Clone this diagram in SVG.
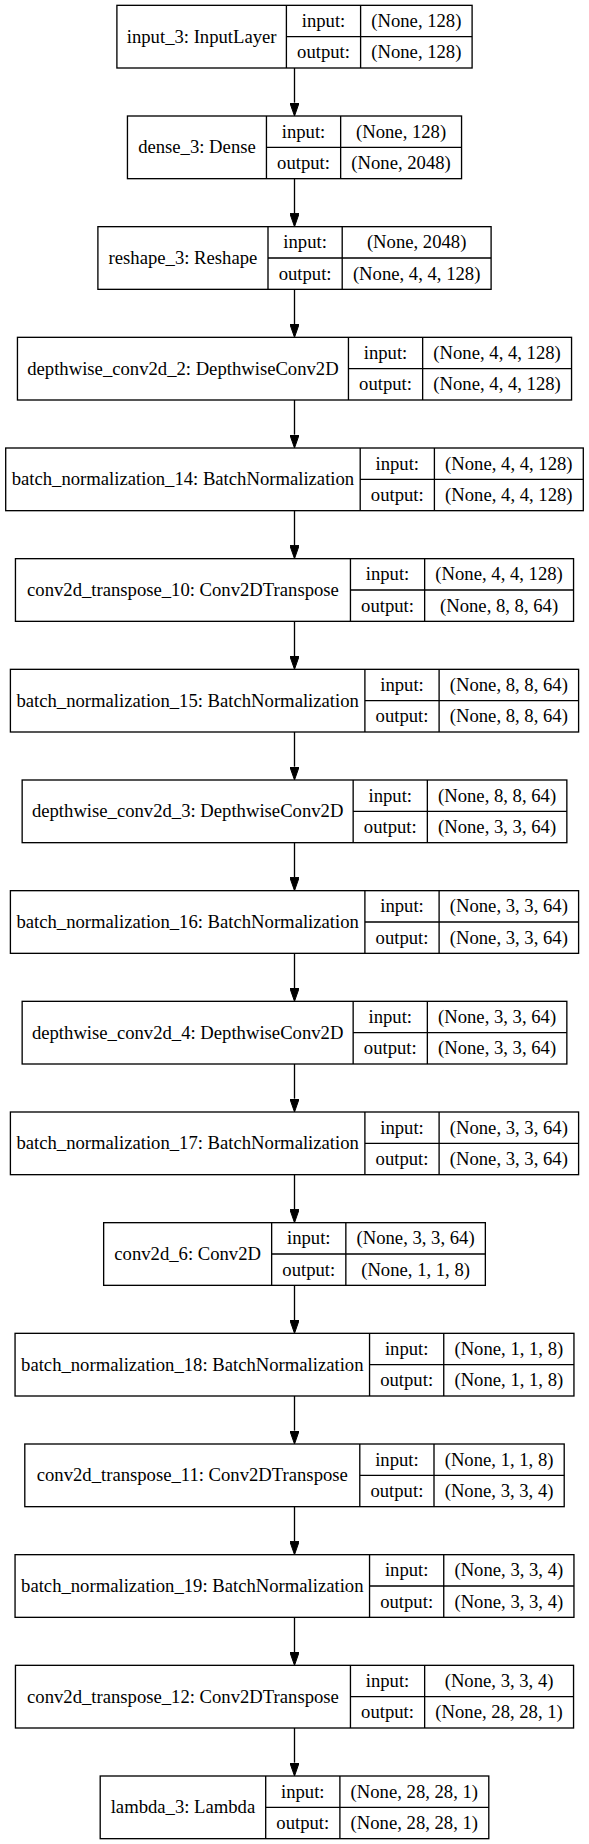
<svg xmlns="http://www.w3.org/2000/svg" width="589" height="1844" viewBox="0 0 589 1844">
<style>
.box{fill:#fff;stroke:#000;stroke-width:1.33}
.ln{stroke:#000;stroke-width:1.33;fill:none}
.t{font-family:"Liberation Serif","Times New Roman",serif;font-size:18.67px;fill:#000;text-anchor:middle}
.edge{stroke:#000;stroke-width:1.33;fill:none}
</style>
<defs>
<marker id="arr" markerUnits="userSpaceOnUse" viewBox="0 0 13.33 9.33" refX="0" refY="4.67" markerWidth="13.33" markerHeight="9.33" orient="auto">
<path d="M0,0 L13.33,4.67 L0,9.33 z" fill="#000" stroke="#000" stroke-width="1"/>
</marker>
</defs>
<rect width="589" height="1844" fill="#fff"/>
<g id="connectors">
<line class="edge" x1="294.5" y1="68" x2="294.5" y2="102.67" marker-end="url(#arr)"/>
<line class="edge" x1="294.5" y1="178.67" x2="294.5" y2="213.33" marker-end="url(#arr)"/>
<line class="edge" x1="294.5" y1="289.33" x2="294.5" y2="324" marker-end="url(#arr)"/>
<line class="edge" x1="294.5" y1="400" x2="294.5" y2="434.67" marker-end="url(#arr)"/>
<line class="edge" x1="294.5" y1="510.67" x2="294.5" y2="545.33" marker-end="url(#arr)"/>
<line class="edge" x1="294.5" y1="621.33" x2="294.5" y2="656" marker-end="url(#arr)"/>
<line class="edge" x1="294.5" y1="732" x2="294.5" y2="766.67" marker-end="url(#arr)"/>
<line class="edge" x1="294.5" y1="842.67" x2="294.5" y2="877.33" marker-end="url(#arr)"/>
<line class="edge" x1="294.5" y1="953.33" x2="294.5" y2="988" marker-end="url(#arr)"/>
<line class="edge" x1="294.5" y1="1064" x2="294.5" y2="1098.67" marker-end="url(#arr)"/>
<line class="edge" x1="294.5" y1="1174.67" x2="294.5" y2="1209.33" marker-end="url(#arr)"/>
<line class="edge" x1="294.5" y1="1285.33" x2="294.5" y2="1320" marker-end="url(#arr)"/>
<line class="edge" x1="294.5" y1="1396" x2="294.5" y2="1430.67" marker-end="url(#arr)"/>
<line class="edge" x1="294.5" y1="1506.67" x2="294.5" y2="1541.33" marker-end="url(#arr)"/>
<line class="edge" x1="294.5" y1="1617.33" x2="294.5" y2="1652" marker-end="url(#arr)"/>
<line class="edge" x1="294.5" y1="1728" x2="294.5" y2="1762.67" marker-end="url(#arr)"/>
</g>
<g id="n0">
<rect class="box" x="116.9" y="5.33" width="355.2" height="62.67"/>
<path class="ln" d="M286.4,5.33V68M360.6,5.33V68M286.4,36.67H472.1"/>
<text class="t" x="201.65" y="42.67">input_3: InputLayer</text>
<text class="t" x="323.5" y="26.83">input:</text>
<text class="t" x="416.35" y="26.83">(None, 128)</text>
<text class="t" x="323.5" y="58.17">output:</text>
<text class="t" x="416.35" y="58.17">(None, 128)</text>
</g>
<g id="n1">
<rect class="box" x="127.45" y="116" width="334.1" height="62.67"/>
<path class="ln" d="M266.45,116V178.67M340.65,116V178.67M266.45,147.33H461.55"/>
<text class="t" x="196.95" y="153.33">dense_3: Dense</text>
<text class="t" x="303.55" y="137.5">input:</text>
<text class="t" x="401.1" y="137.5">(None, 128)</text>
<text class="t" x="303.55" y="168.83">output:</text>
<text class="t" x="401.1" y="168.83">(None, 2048)</text>
</g>
<g id="n2">
<rect class="box" x="97.9" y="226.67" width="393.2" height="62.67"/>
<path class="ln" d="M268,226.67V289.33M342.2,226.67V289.33M268,258H491.1"/>
<text class="t" x="182.95" y="264">reshape_3: Reshape</text>
<text class="t" x="305.1" y="248.17">input:</text>
<text class="t" x="416.65" y="248.17">(None, 2048)</text>
<text class="t" x="305.1" y="279.5">output:</text>
<text class="t" x="416.65" y="279.5">(None, 4, 4, 128)</text>
</g>
<g id="n3">
<rect class="box" x="17.45" y="337.33" width="554.1" height="62.67"/>
<path class="ln" d="M348.45,337.33V400M422.65,337.33V400M348.45,368.67H571.55"/>
<text class="t" x="182.95" y="374.67">depthwise_conv2d_2: DepthwiseConv2D</text>
<text class="t" x="385.55" y="358.83">input:</text>
<text class="t" x="497.1" y="358.83">(None, 4, 4, 128)</text>
<text class="t" x="385.55" y="390.17">output:</text>
<text class="t" x="497.1" y="390.17">(None, 4, 4, 128)</text>
</g>
<g id="n4">
<rect class="box" x="5.7" y="448" width="577.6" height="62.67"/>
<path class="ln" d="M360.2,448V510.67M434.4,448V510.67M360.2,479.33H583.3"/>
<text class="t" x="182.95" y="485.33">batch_normalization_14: BatchNormalization</text>
<text class="t" x="397.3" y="469.5">input:</text>
<text class="t" x="508.85" y="469.5">(None, 4, 4, 128)</text>
<text class="t" x="397.3" y="500.83">output:</text>
<text class="t" x="508.85" y="500.83">(None, 4, 4, 128)</text>
</g>
<g id="n5">
<rect class="box" x="15.45" y="558.67" width="558.1" height="62.67"/>
<path class="ln" d="M350.45,558.67V621.33M424.65,558.67V621.33M350.45,590H573.55"/>
<text class="t" x="182.95" y="596">conv2d_transpose_10: Conv2DTranspose</text>
<text class="t" x="387.55" y="580.17">input:</text>
<text class="t" x="499.1" y="580.17">(None, 4, 4, 128)</text>
<text class="t" x="387.55" y="611.5">output:</text>
<text class="t" x="499.1" y="611.5">(None, 8, 8, 64)</text>
</g>
<g id="n6">
<rect class="box" x="10.4" y="669.33" width="568.2" height="62.67"/>
<path class="ln" d="M364.9,669.33V732M439.1,669.33V732M364.9,700.67H578.6"/>
<text class="t" x="187.65" y="706.67">batch_normalization_15: BatchNormalization</text>
<text class="t" x="402" y="690.83">input:</text>
<text class="t" x="508.85" y="690.83">(None, 8, 8, 64)</text>
<text class="t" x="402" y="722.17">output:</text>
<text class="t" x="508.85" y="722.17">(None, 8, 8, 64)</text>
</g>
<g id="n7">
<rect class="box" x="22.15" y="780" width="544.7" height="62.67"/>
<path class="ln" d="M353.15,780V842.67M427.35,780V842.67M353.15,811.33H566.85"/>
<text class="t" x="187.65" y="817.33">depthwise_conv2d_3: DepthwiseConv2D</text>
<text class="t" x="390.25" y="801.5">input:</text>
<text class="t" x="497.1" y="801.5">(None, 8, 8, 64)</text>
<text class="t" x="390.25" y="832.83">output:</text>
<text class="t" x="497.1" y="832.83">(None, 3, 3, 64)</text>
</g>
<g id="n8">
<rect class="box" x="10.4" y="890.67" width="568.2" height="62.67"/>
<path class="ln" d="M364.9,890.67V953.33M439.1,890.67V953.33M364.9,922H578.6"/>
<text class="t" x="187.65" y="928">batch_normalization_16: BatchNormalization</text>
<text class="t" x="402" y="912.17">input:</text>
<text class="t" x="508.85" y="912.17">(None, 3, 3, 64)</text>
<text class="t" x="402" y="943.5">output:</text>
<text class="t" x="508.85" y="943.5">(None, 3, 3, 64)</text>
</g>
<g id="n9">
<rect class="box" x="22.15" y="1001.33" width="544.7" height="62.67"/>
<path class="ln" d="M353.15,1001.33V1064M427.35,1001.33V1064M353.15,1032.67H566.85"/>
<text class="t" x="187.65" y="1038.67">depthwise_conv2d_4: DepthwiseConv2D</text>
<text class="t" x="390.25" y="1022.83">input:</text>
<text class="t" x="497.1" y="1022.83">(None, 3, 3, 64)</text>
<text class="t" x="390.25" y="1054.17">output:</text>
<text class="t" x="497.1" y="1054.17">(None, 3, 3, 64)</text>
</g>
<g id="n10">
<rect class="box" x="10.4" y="1112" width="568.2" height="62.67"/>
<path class="ln" d="M364.9,1112V1174.67M439.1,1112V1174.67M364.9,1143.33H578.6"/>
<text class="t" x="187.65" y="1149.33">batch_normalization_17: BatchNormalization</text>
<text class="t" x="402" y="1133.5">input:</text>
<text class="t" x="508.85" y="1133.5">(None, 3, 3, 64)</text>
<text class="t" x="402" y="1164.83">output:</text>
<text class="t" x="508.85" y="1164.83">(None, 3, 3, 64)</text>
</g>
<g id="n11">
<rect class="box" x="103.65" y="1222.67" width="381.7" height="62.67"/>
<path class="ln" d="M271.65,1222.67V1285.33M345.85,1222.67V1285.33M271.65,1254H485.35"/>
<text class="t" x="187.65" y="1260">conv2d_6: Conv2D</text>
<text class="t" x="308.75" y="1244.17">input:</text>
<text class="t" x="415.6" y="1244.17">(None, 3, 3, 64)</text>
<text class="t" x="308.75" y="1275.5">output:</text>
<text class="t" x="415.6" y="1275.5">(None, 1, 1, 8)</text>
</g>
<g id="n12">
<rect class="box" x="15.05" y="1333.33" width="558.9" height="62.67"/>
<path class="ln" d="M369.55,1333.33V1396M443.75,1333.33V1396M369.55,1364.67H573.95"/>
<text class="t" x="192.3" y="1370.67">batch_normalization_18: BatchNormalization</text>
<text class="t" x="406.65" y="1354.83">input:</text>
<text class="t" x="508.85" y="1354.83">(None, 1, 1, 8)</text>
<text class="t" x="406.65" y="1386.17">output:</text>
<text class="t" x="508.85" y="1386.17">(None, 1, 1, 8)</text>
</g>
<g id="n13">
<rect class="box" x="24.8" y="1444" width="539.4" height="62.67"/>
<path class="ln" d="M359.8,1444V1506.67M434,1444V1506.67M359.8,1475.33H564.2"/>
<text class="t" x="192.3" y="1481.33">conv2d_transpose_11: Conv2DTranspose</text>
<text class="t" x="396.9" y="1465.5">input:</text>
<text class="t" x="499.1" y="1465.5">(None, 1, 1, 8)</text>
<text class="t" x="396.9" y="1496.83">output:</text>
<text class="t" x="499.1" y="1496.83">(None, 3, 3, 4)</text>
</g>
<g id="n14">
<rect class="box" x="15.05" y="1554.67" width="558.9" height="62.67"/>
<path class="ln" d="M369.55,1554.67V1617.33M443.75,1554.67V1617.33M369.55,1586H573.95"/>
<text class="t" x="192.3" y="1592">batch_normalization_19: BatchNormalization</text>
<text class="t" x="406.65" y="1576.17">input:</text>
<text class="t" x="508.85" y="1576.17">(None, 3, 3, 4)</text>
<text class="t" x="406.65" y="1607.5">output:</text>
<text class="t" x="508.85" y="1607.5">(None, 3, 3, 4)</text>
</g>
<g id="n15">
<rect class="box" x="15.45" y="1665.33" width="558.1" height="62.67"/>
<path class="ln" d="M350.45,1665.33V1728M424.65,1665.33V1728M350.45,1696.67H573.55"/>
<text class="t" x="182.95" y="1702.67">conv2d_transpose_12: Conv2DTranspose</text>
<text class="t" x="387.55" y="1686.83">input:</text>
<text class="t" x="499.1" y="1686.83">(None, 3, 3, 4)</text>
<text class="t" x="387.55" y="1718.17">output:</text>
<text class="t" x="499.1" y="1718.17">(None, 28, 28, 1)</text>
</g>
<g id="n16">
<rect class="box" x="100.2" y="1776" width="388.6" height="62.67"/>
<path class="ln" d="M265.7,1776V1838.67M339.9,1776V1838.67M265.7,1807.33H488.8"/>
<text class="t" x="182.95" y="1813.33">lambda_3: Lambda</text>
<text class="t" x="302.8" y="1797.5">input:</text>
<text class="t" x="414.35" y="1797.5">(None, 28, 28, 1)</text>
<text class="t" x="302.8" y="1828.83">output:</text>
<text class="t" x="414.35" y="1828.83">(None, 28, 28, 1)</text>
</g>
</svg>
